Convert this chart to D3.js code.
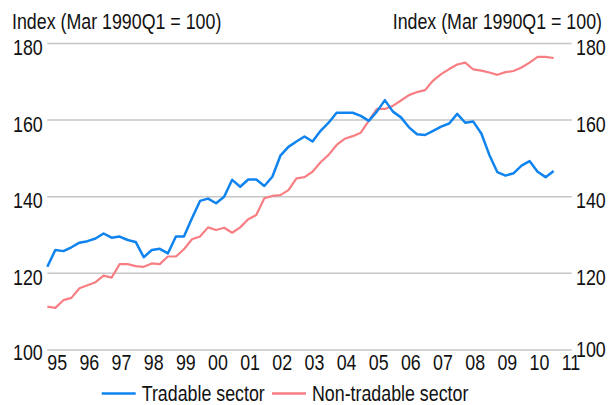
<!DOCTYPE html>
<html><head><meta charset="utf-8">
<script src="https://cdn.jsdelivr.net/npm/d3@7"></script>
<style>
html,body{margin:0;padding:0;background:#fff;}
svg{display:block;}
text{font-family:"Liberation Sans",Arial,sans-serif;fill:#111;}
</style></head>
<body>
<svg id="chart" width="609" height="405"></svg>
<script>
const startYear = 1995;
const yearLabels = ["95","96","97","98","99","00","01","02","03","04","05","06","07","08","09","10","11"];
const yTicks = [100,120,140,160,180];
const axisTitle = "Index (Mar 1990Q1 = 100)";
const seriesNames = ["Tradable sector","Non-tradable sector"];
const tradable = [
  121.7,126.1,125.8,126.8, 128.0,128.4,129.1,130.4, 129.3,129.6,128.7,128.2,
  124.2,126.1,126.4,125.2, 129.6,129.6,134.4,138.9, 139.5,138.3,140.0,144.4,
  142.6,144.5,144.5,142.8, 145.2,150.7,153.0,154.4, 155.7,154.4,157.2,159.3,
  161.9,161.9,161.9,161.1, 159.8,162.2,165.2,162.2, 160.7,158.1,156.3,156.1,
  157.2,158.3,159.1,161.6, 159.3,159.6,156.5,150.9, 146.4,145.5,146.1,148.1,
  149.3,146.5,145.1,146.7
];
const nonTradable = [
  111.3,111.0,113.0,113.6, 116.1,116.9,117.7,119.4, 118.9,122.4,122.4,121.9,
  121.7,122.6,122.4,124.4, 124.4,126.3,128.9,129.6, 132.0,131.3,131.9,130.6,
  132.0,134.1,135.2,139.6, 140.2,140.4,141.7,144.8, 145.1,146.5,149.0,150.9,
  153.5,155.1,155.8,156.7, 159.8,162.9,162.9,163.7, 165.1,166.5,167.3,167.8,
  170.3,172.0,173.3,174.5, 175.0,173.2,172.9,172.4, 171.8,172.5,172.8,173.7,
  175.0,176.5,176.5,176.2
];
const colors = ["#0f84ef","#f77f84"];

const svg = d3.select("#chart");
const SX = 0.81, FS = 22;
const x = d3.scaleLinear().domain([1995, 2011]).range([47.3, 561.7]);
const y = d3.scaleLinear().domain([100, 180]).range([350, 43.4]);
const gridX0 = 47.3, gridX1 = 571.7;

function txt(g, s, tx, ty, anchor) {
  return g.append("text").attr("transform", `translate(${tx},${ty}) scale(${SX},1)`)
    .attr("font-size", FS).attr("text-anchor", anchor || "start").text(s);
}

// gridlines
svg.append("g").selectAll("line").data(yTicks).join("line")
  .attr("x1", gridX0).attr("x2", gridX1)
  .attr("y1", d => y(d)).attr("y2", d => y(d))
  .attr("stroke", "#c6c6c6").attr("stroke-width", 1.5);

// y labels
const gl = svg.append("g");
yTicks.forEach(t => {
  txt(gl, String(t), 13, y(t) + (t === 100 ? 10 : 11.5));
  txt(gl, String(t), 576, y(t) + (t === 100 ? 7 : 11.5));
});
txt(gl, axisTitle, 12, 29);
txt(gl, axisTitle, 602, 29, "end");

// x labels
yearLabels.forEach((l, i) => txt(gl, l, x(startYear + i), 370));

// lines
const q = i => startYear + i / 4;
const line = d3.line().x((d, i) => x(q(i))).y(d => y(d));
svg.append("path").datum(nonTradable).attr("d", line).attr("fill", "none")
  .attr("stroke", colors[1]).attr("stroke-width", 2.2).attr("stroke-linejoin", "round");
svg.append("path").datum(tradable).attr("d", line).attr("fill", "none")
  .attr("stroke", colors[0]).attr("stroke-width", 2.5).attr("stroke-linejoin", "round");

// legend
const lg = svg.append("g");
const legendX = [101.7, 272];
seriesNames.forEach((n, i) => {
  lg.append("line").attr("x1", legendX[i]).attr("x2", legendX[i] + 34)
    .attr("y1", 393.5).attr("y2", 393.5).attr("stroke", colors[i]).attr("stroke-width", 2.5);
  txt(lg, n, legendX[i] + 40, 401);
});
</script>
</body></html>
